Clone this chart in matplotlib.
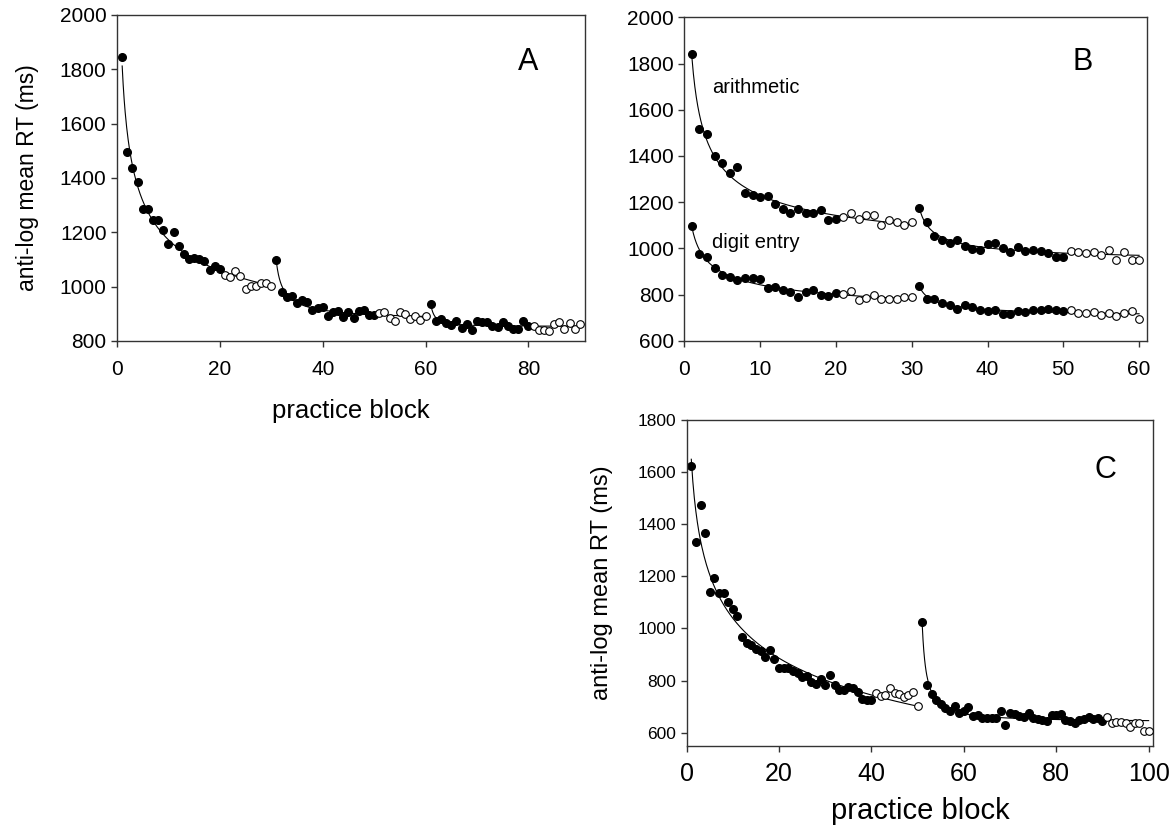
import numpy as np
import matplotlib.pyplot as plt

plt.rcParams['font.family'] = ['Liberation Sans', 'DejaVu Sans']

# ---- panel A: blocks 1-90 ----
a_rt = [1847, 1494, 1438, 1386, 1286, 1286, 1245, 1247, 1209, 1158,
        1201, 1149, 1119, 1101, 1107, 1103, 1095, 1060, 1076, 1064,
        1043, 1036, 1058, 1038, 992, 1003, 1003, 1014, 1013, 1003,
        1098, 979, 962, 967, 938, 951, 943, 915, 921, 924,
        893, 906, 911, 889, 905, 884, 911, 913, 896, 896,
        904, 907, 885, 873, 906, 901, 882, 893, 879, 891,
        937, 875, 882, 865, 858, 874, 847, 861, 842, 872,
        869, 868, 856, 850, 869, 854, 845, 845, 875, 856,
        854, 842, 839, 836, 861, 871, 843, 867, 843, 862]
a_open = [(21, 30), (51, 60), (81, 90)]
a_segments = [(1, 30), (31, 60), (61, 90)]

# ---- panel B: blocks 1-60 ----
b_arith = [1840, 1518, 1497, 1400, 1369, 1328, 1353, 1240, 1233, 1223,
           1228, 1191, 1170, 1154, 1172, 1154, 1155, 1167, 1125, 1128,
           1135, 1152, 1128, 1144, 1144, 1100, 1123, 1116, 1103, 1115,
           1176, 1115, 1054, 1037, 1025, 1036, 1012, 999, 994, 1021,
           1024, 1004, 985, 1005, 991, 994, 991, 982, 965, 963,
           991, 986, 981, 986, 973, 994, 950, 985, 950, 952]
b_digit = [1096, 978, 962, 916, 885, 876, 863, 871, 871, 869,
           829, 834, 821, 813, 792, 813, 821, 798, 795, 808,
           802, 815, 777, 785, 798, 783, 780, 783, 789, 792,
           839, 783, 783, 763, 756, 740, 756, 746, 733, 731,
           733, 715, 717, 731, 727, 734, 735, 738, 733, 730,
           733, 722, 720, 727, 711, 720, 707, 720, 728, 695]
b_open = [(21, 30), (51, 60)]
b_segments = [(1, 30), (31, 60)]

# ---- panel C: blocks 1-100 ----
c_rt = [1625, 1332, 1475, 1366, 1141, 1194, 1136, 1135, 1101, 1074,
        1047, 969, 943, 938, 920, 915, 890, 916, 882, 847,
        847, 850, 837, 829, 814, 819, 795, 785, 806, 782,
        820, 782, 764, 763, 776, 771, 755, 730, 727, 727,
        753, 739, 743, 771, 753, 749, 736, 746, 757, 702,
        1023, 782, 750, 726, 711, 694, 684, 701, 676, 683,
        697, 664, 668, 657, 655, 657, 655, 682, 629, 674,
        673, 662, 661, 674, 657, 654, 648, 646, 669, 666,
        673, 650, 646, 638, 647, 651, 661, 654, 657, 645,
        660, 638, 639, 639, 637, 623, 636, 636, 608, 608]
c_open = [(41, 50), (91, 100)]
c_segments = [(1, 50), (51, 100)]


def power_fit(t, y):
    # y = a + b * t^-c, best c on a grid, a and b by least squares
    best = None
    for c in np.linspace(0.05, 4, 400):
        X = np.column_stack([np.ones_like(t), t ** -c])
        coef = np.linalg.lstsq(X, y, rcond=None)[0]
        err = np.sum((X @ coef - y) ** 2)
        if best is None or err < best[0]:
            best = (err, coef[0], coef[1], c)
    return best[1:]


def draw_series(ax, rt, open_ranges, segments, ms=5.5):
    rt = np.array(rt, dtype=float)
    blocks = np.arange(1, len(rt) + 1)
    is_open = np.zeros(len(rt), bool)
    for lo, hi in open_ranges:
        is_open[(blocks >= lo) & (blocks <= hi)] = True
    for lo, hi in segments:
        m = (blocks >= lo) & (blocks <= hi)
        t = (blocks[m] - lo + 1).astype(float)
        a, b, c = power_fit(t, rt[m])
        tt = np.linspace(1, t[-1], 300)
        ax.plot(tt + lo - 1, a + b * tt ** -c, color='black', lw=0.8, zorder=3)
    ax.plot(blocks[~is_open], rt[~is_open], 'o', color='black', ms=ms,
            mec='black', zorder=2, clip_on=False)
    ax.plot(blocks[is_open], rt[is_open], 'o', mfc='white', mec='black',
            ms=ms, mew=0.8, zorder=4, clip_on=False)


def style(ax, size):
    ax.tick_params(direction='out', length=4, width=1, labelsize=size,
                   top=False, right=False, color='#333333')
    ax.tick_params(axis='x', pad=10)
    for s in ax.spines.values():
        s.set_linewidth(1)
        s.set_color('#333333')


fig = plt.figure(figsize=(11.75, 8.3), dpi=100)

axA = fig.add_axes([0.0996, 0.5892, 0.3983, 0.3928])
draw_series(axA, a_rt, a_open, a_segments)
axA.set_xlim(0, 91)
axA.set_ylim(800, 2000)
axA.set_xticks([0, 20, 40, 60, 80])
axA.set_yticks(range(800, 2001, 200))
style(axA, 15)
axA.set_ylabel('anti-log mean RT (ms)', fontsize=16.5, labelpad=15)
axA.set_xlabel('practice block', fontsize=18.5, labelpad=14)
axA.text(0.878, 0.856, 'A', transform=axA.transAxes, fontsize=22,
         ha='center', va='center')

axB = fig.add_axes([0.5824, 0.5892, 0.3935, 0.39])
draw_series(axB, b_arith, b_open, b_segments)
draw_series(axB, b_digit, b_open, b_segments)
axB.set_xlim(0, 61)
axB.set_ylim(600, 2000)
axB.set_xticks(range(0, 61, 10))
axB.set_yticks(range(600, 2001, 200))
style(axB, 15)
axB.text(3.7, 1698, 'arithmetic', fontsize=14.5, va='center')
axB.text(3.7, 1028, 'digit entry', fontsize=14.5, va='center')
axB.text(0.861, 0.861, 'B', transform=axB.transAxes, fontsize=22,
         ha='center', va='center')

axC = fig.add_axes([0.5844, 0.1016, 0.3971, 0.3924])
draw_series(axC, c_rt, c_open, c_segments)
axC.set_xlim(0, 101)
axC.set_ylim(550, 1800)
axC.set_xticks(range(0, 101, 20))
axC.set_yticks(range(600, 1801, 200))
style(axC, 12.5)
axC.tick_params(axis='x', labelsize=18, pad=8)
axC.set_ylabel('anti-log mean RT (ms)', fontsize=17, labelpad=18)
axC.set_xlabel('practice block', fontsize=21, labelpad=8)
axC.text(0.897, 0.847, 'C', transform=axC.transAxes, fontsize=22,
         ha='center', va='center')

fig.savefig('out.png', dpi=100, facecolor='white')
